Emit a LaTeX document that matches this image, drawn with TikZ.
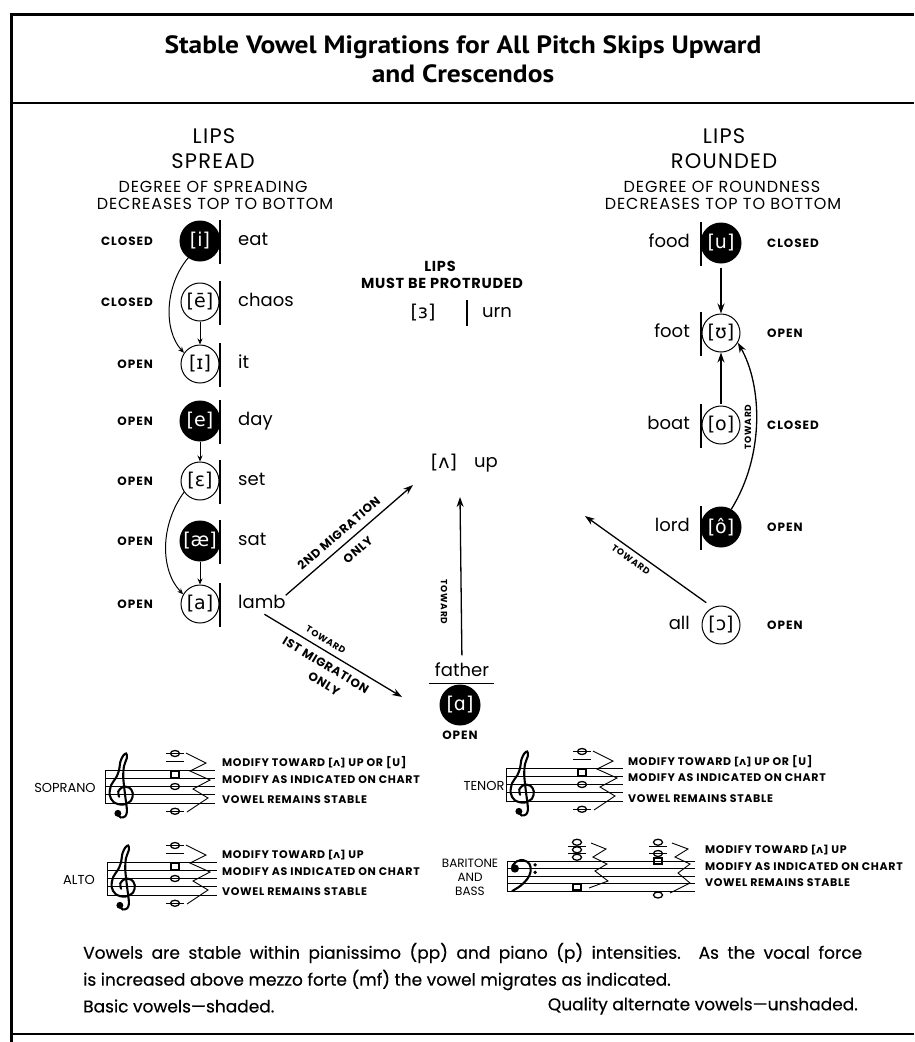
\documentclass[tikz,border=0pt]{standalone}
\usepackage{fontspec}
\setmainfont{Poppins}
\newfontfamily\titlefont{PT Sans}[FakeStretch=1.1]
\newfontfamily\ipafont{DejaVu Sans}
\usetikzlibrary{arrows.meta,calc}
\tikzset{
 basicv/.style={circle,draw=black,fill=black,text=white,line width=1pt,minimum size=40pt,inner sep=0pt,font=\ipafont\fontsize{19}{19}\selectfont},
 altv/.style={circle,draw=black,fill=white,line width=1pt,minimum size=38pt,inner sep=0pt,font=\ipafont\fontsize{19}{19}\selectfont},
 ipav/.style={inner sep=0pt,font=\ipafont\fontsize{19}{19}\selectfont},
 word/.style={inner sep=0pt,font=\fontsize{18}{18}\selectfont,text height=13pt,text depth=4pt},
 qual/.style={inner sep=0pt,font=\bfseries\fontsize{12}{12}\selectfont\addfontfeature{LetterSpace=8},text height=8.5pt,text depth=0pt},
 hbig/.style={inner sep=0pt,font=\fontsize{21}{21}\selectfont\addfontfeature{LetterSpace=6}},
 hsmall/.style={inner sep=0pt,font=\fontsize{16}{16}\selectfont\addfontfeature{LetterSpace=6}},
 cbold/.style={inner sep=0pt,font=\bfseries\fontsize{14.5}{14.5}\selectfont\addfontfeature{LetterSpace=5}},
 lbl/.style={inner sep=0pt,font=\bfseries\fontsize{12}{12}\selectfont\addfontfeature{LetterSpace=6}},
 slbl/.style={inner sep=0pt,font=\bfseries\fontsize{9}{9}\selectfont\addfontfeature{LetterSpace=8}},
 note text/.style={inner sep=0pt,font=\fontsize{17}{17}\selectfont\addfontfeature{FakeBold=0.4}},
 arr/.style={line width=1.3pt,-{Stealth[length=10pt,width=7pt]}},
 rarr/.style={line width=1.3pt,{Stealth[length=10pt,width=7pt]}-},
 sarr/.style={line width=1pt,-{Stealth[length=6pt,width=5pt]}},
 vbar/.style={line width=1.1pt},
 staffline/.style={line width=0.9pt},
 note/.style={line width=1.3pt},
 zig/.style={line width=0.9pt},
 stext/.style={inner sep=0pt,anchor=west,font=\bfseries\fontsize{11}{11}\selectfont\addfontfeature{LetterSpace=6}},
 slab/.style={inner sep=0pt,font=\fontsize{13}{13}\selectfont,align=center},
 trebleclef/.pic={
  \draw[line width=2.1pt,line cap=round] plot[smooth,tension=0.55] coordinates {(-0.55,-2.35) (-0.15,-2.75) (0.4,-2.6) (0.6,-2.0) (0.5,-1.0) (0.3,0.6) (0.15,2.2) (0.25,3.5) (0.6,4.5) (0.5,5.0) (0.15,4.75) (-0.2,4.0) (-0.35,3.0) (-0.7,2.1) (-1.3,1.2) (-1.5,0.0) (-1.0,-0.9) (0.1,-1.2) (1.1,-0.7) (1.3,0.2) (0.9,0.85) (0.1,0.95) (-0.45,0.4) (-0.35,-0.25)};
  \fill (-0.5,-2.25) circle (0.42);
 },
 bassclef/.pic={
  \fill (0.25,0) circle (0.55);
  \draw[line width=2.1pt,line cap=round] plot[smooth,tension=0.6] coordinates {(-0.1,0.3) (0.5,0.95) (1.4,1.1) (2.2,0.6) (2.35,-0.4) (1.9,-1.4) (1.0,-2.3) (-0.1,-3.0)};
  \fill (2.95,0.5) circle (0.25);
  \fill (2.95,-0.5) circle (0.25);
 },
}
\newcommand{\trebstaff}[2]{%
 \foreach \k in {0,...,4} \draw[staffline] (0,{-8.25*\k}) -- (#1,{-8.25*\k});
 \draw[staffline] (0,0) -- (0,-33);
 \pic[scale=8.25] at (17,-24.75) {trebleclef};
 \draw[staffline] ({#2-9},16.5) -- ({#2+9},16.5);
 \draw[staffline] ({#2-9},8.25) -- ({#2+9},8.25);
 \draw[note] (#2,16.5) ellipse (4.5 and 3);
 \draw[note] ({#2-4},-1) rectangle ({#2+4},-7.25);
 \draw[note] (#2,-16.5) ellipse (4.5 and 3);
 \draw[staffline] ({#2-9},-41.25) -- ({#2+9},-41.25);
 \draw[note] (#2,-41.25) ellipse (4.5 and 3);
 \draw[zig] ({#2+11},17) -- ({#2+31},7) -- ({#2+15},-1) -- ({#2+35},-10) -- ({#2+18},-19) -- ({#2+33},-28) -- ({#2+12},-42);
}
\begin{document}
\begin{tikzpicture}[x=1pt,y=1pt]
\useasboundingbox (0,0) rectangle (914,-1042);
\fill[white] (0,0) rectangle (914,-1042);
% frame
\draw[line width=3pt] (11,-1042) -- (11,-14) -- (914,-14);
\draw[line width=2.5pt] (11,-103) -- (914,-103);
\draw[line width=2.5pt] (11,-1034) -- (914,-1034);
% title
\node[font=\titlefont\bfseries\fontsize{25}{25}\selectfont,inner sep=0pt] (title1) at (463,-47) {Stable Vowel Migrations for All Pitch Skips Upward};
\node[font=\titlefont\bfseries\fontsize{25}{25}\selectfont,inner sep=0pt] (title2) at (463,-74) {and Crescendos};
% headers
\node[hbig] (hl1) at (214,-136) {LIPS};
\node[hbig] (hl2) at (213,-161) {SPREAD};
\node[hsmall] (hl3) at (213,-187) {DEGREE OF SPREADING};
\node[hsmall] (hl4) at (215,-204) {DECREASES TOP TO BOTTOM};
\node[hbig] (hr1) at (724,-136) {LIPS};
\node[hbig] (hr2) at (724,-161) {ROUNDED};
\node[hsmall] (hr3) at (722,-187) {DEGREE OF ROUNDNESS};
\node[hsmall] (hr4) at (723,-204) {DECREASES TOP TO BOTTOM};
% left column
\node[basicv] (vi) at (200,-241) {[i]};
\node[altv] (vee) at (200,-302) {[ē]};
\node[altv] (vI) at (200,-364) {[ɪ]};
\node[basicv] (ve) at (200,-421) {[e]};
\node[altv] (veps) at (200,-481) {[ɛ]};
\node[basicv] (vae) at (200,-541) {[æ]};
\node[altv] (va) at (200,-604) {[a]};
\foreach \n in {vi,vee,vI,ve,veps,vae,va} \draw[vbar] ($(\n)+(20,21)$) -- ($(\n)+(20,-23)$);
\node[qual,anchor=east] (qi) at (153,-241) {CLOSED};
\node[qual,anchor=east] (qee) at (153,-302) {CLOSED};
\node[qual,anchor=east] (qI) at (153,-364) {OPEN};
\node[qual,anchor=east] (qe) at (153,-421) {OPEN};
\node[qual,anchor=east] (qeps) at (153,-481) {OPEN};
\node[qual,anchor=east] (qae) at (153,-541) {OPEN};
\node[qual,anchor=east] (qa) at (153,-604) {OPEN};
\node[word,anchor=west] (wi) at (238,-241) {eat};
\node[word,anchor=west] (wee) at (238,-302) {chaos};
\node[word,anchor=west] (wI) at (238,-364) {it};
\node[word,anchor=west] (we) at (238,-421) {day};
\node[word,anchor=west] (weps) at (238,-481) {set};
\node[word,anchor=west] (wae) at (238,-541) {sat};
\node[word,anchor=west] (wa) at (238,-604) {lamb};
\draw[sarr] (vee.south) -- (vI.north);
\draw[sarr] (ve.south) -- (veps.north);
\draw[sarr] (vae.south) -- (va.north);
\draw[sarr] (vi.235) .. controls (165,-285) and (163,-330) .. (vI.145);
\draw[sarr] (veps.215) .. controls (160,-525) and (160,-570) .. (va.150);
% right column
\node[basicv] (vu) at (721,-243) {[u]};
\node[altv] (vU) at (721,-333) {[ʊ]};
\node[altv] (vo) at (721,-425) {[o]};
\node[basicv] (vO) at (721,-527) {[ô]};
\node[altv] (vc) at (721,-625) {[ɔ]};
\foreach \n in {vu,vU,vo,vO} \draw[vbar] ($(\n)+(-20,21)$) -- ($(\n)+(-20,-23)$);
\node[word,anchor=east] (wu) at (690,-243) {food};
\node[word,anchor=east] (wU) at (690,-333) {foot};
\node[word,anchor=east] (wo) at (690,-425) {boat};
\node[word,anchor=east] (wO) at (690,-527) {lord};
\node[word,anchor=east] (wc) at (690,-625) {all};
\node[qual,anchor=west] (qu) at (767,-243) {CLOSED};
\node[qual,anchor=west] (qU) at (767,-333) {OPEN};
\node[qual,anchor=west] (qo) at (767,-425) {CLOSED};
\node[qual,anchor=west] (qO) at (767,-527) {OPEN};
\node[qual,anchor=west] (qc) at (767,-625) {OPEN};
\draw[arr,shorten <=4pt] (vu.south) -- (vU.north);
\draw[arr,shorten <=2pt] (vo.north) -- (vU.south);
\draw[arr] (vO.60) .. controls (765,-455) and (762,-385) .. (vU.-30);
\node[slbl,rotate=90] (ltr) at (748,-427) {TOWARD};
% centre
\node[cbold] (lipsc) at (440,-266) {LIPS};
\node[cbold] (protr) at (442,-283) {MUST BE PROTRUDED};
\node[ipav] (verr) at (423,-313) {[ɜ]};
\draw[vbar] (467,-300) -- (467,-326);
\node[word,anchor=west] (wurn) at (482,-313) {urn};
\node[ipav] (vup) at (444,-463) {[ʌ]};
\node[word,anchor=west] (wup) at (474,-463) {up};
\coordinate (t2) at (413,-485);
\coordinate (t3) at (460,-497);
\coordinate (t4) at (585,-516);
\coordinate (t5) at (402,-697);
% father
\node[word] (wfa) at (462,-672) {father};
\draw[line width=1pt] (429,-683) -- (494,-683);
\node[basicv] (vfa) at (460,-705) {[ɑ]};
\node[qual] (qfa) at (460,-735) {OPEN};
% migration arrows
\draw[arr] (wa.north east) -- (t2)
  node[lbl,pos=0.48,sloped,above=7pt] (l2nd) {2ND MIGRATION}
  node[lbl,pos=0.5,sloped,below=8pt] (l2only) {ONLY};
\draw[arr,shorten <=8pt] (wfa.north) -- (t3);
\node[slbl,rotate=-90] (ltv) at (444,-602) {TOWARD};
\draw[rarr,shorten >=8pt] (t4) -- (vc.115)
  node[slbl,pos=0.4,sloped,below=5pt] (ltc) {TOWARD};
\draw[arr,shorten <=3pt] (wa.south) -- (t5)
  node[slbl,pos=0.42,sloped,above=6pt] (ltf) {TOWARD}
  node[lbl,pos=0.5,sloped,below=7pt] (lmig1) {IST MIGRATION}
  node[lbl,pos=0.55,sloped,below=24pt] (lonly1) {ONLY};
% staves
\node[slab] (lsop) at (65,-788) {SOPRANO};
\begin{scope}[shift={(105,-770)}] \trebstaff{110}{70} \end{scope}
\node[stext] (sop1) at (222,-763) {MODIFY TOWARD {\ipafont[ʌ]} UP OR [U]};
\node[stext] (sop2) at (222,-780) {MODIFY AS INDICATED ON CHART};
\node[stext] (sop3) at (222,-800) {VOWEL REMAINS STABLE};
\node[slab] (lalt) at (79,-880) {ALTO};
\begin{scope}[shift={(107,-862)}] \trebstaff{110}{68} \end{scope}
\node[stext] (alt1) at (222,-855) {MODIFY TOWARD {\ipafont[ʌ]} UP};
\node[stext] (alt2) at (222,-872) {MODIFY AS INDICATED ON CHART};
\node[stext] (alt3) at (222,-892) {VOWEL REMAINS STABLE};
\node[slab] (lten) at (484,-786) {TENOR};
\begin{scope}[shift={(506,-768)}] \trebstaff{117}{76} \end{scope}
\node[stext] (ten1) at (628,-762) {MODIFY TOWARD {\ipafont[ʌ]} UP OR [U]};
\node[stext] (ten2) at (628,-778) {MODIFY AS INDICATED ON CHART};
\node[stext] (ten3) at (628,-799) {VOWEL REMAINS STABLE};
\node[slab,font=\fontsize{12}{14}\selectfont] (lbar) at (470,-877) {BARITONE\\AND\\BASS};
\begin{scope}[shift={(507,-861)}]
 \foreach \k in {0,...,4} \draw[staffline] (0,{-7.5*\k}) -- (188,{-7.5*\k});
 \draw[staffline] (0,0) -- (0,-30);
 \pic[scale=7.5] at (6,-7.5) {bassclef};
 \draw[staffline] (61,7.5) -- (79,7.5);
 \draw[staffline] (61,15) -- (79,15);
 \draw[note] (70,18.75) ellipse (4.5 and 3);
 \draw[note] (70,11.25) ellipse (4.5 and 3);
 \draw[note] (70,3.75) ellipse (4.5 and 3);
 \draw[note] (66,-23.5) rectangle (74,-29);
 \draw[zig] (84,18) -- (99,12) -- (86,4) -- (100,-3) -- (88,-10) -- (101,-20) -- (82,-27);
 \draw[staffline] (142,7.5) -- (160,7.5);
 \draw[staffline] (142,15) -- (160,15);
 \draw[note] (151,18.75) ellipse (4.5 and 3);
 \draw[note] (151,7.5) ellipse (4.5 and 3);
 \draw[note] (147,3) rectangle (155,-3);
 \draw[note] (151,-34) ellipse (4.5 and 3);
 \draw[zig] (165,18) -- (181,12) -- (168,4) -- (183,-3) -- (171,-12) -- (183,-22) -- (163,-32);
\end{scope}
\node[stext] (bas1) at (705,-850) {MODIFY TOWARD {\ipafont[ʌ]} UP};
\node[stext] (bas2) at (705,-867) {MODIFY AS INDICATED ON CHART};
\node[stext] (bas3) at (705,-883) {VOWEL REMAINS STABLE};
% notes
\node[note text,anchor=west] (n1) at (83,-953) {\makebox[779pt][s]{Vowels are stable within pianissimo (pp) and piano (p) intensities. As the vocal force}};
\node[note text,anchor=west] (n2) at (83,-980) {is increased above mezzo forte (mf) the vowel migrates as indicated.};
\node[note text,anchor=west] (n3) at (83,-1006) {Basic vowels—shaded.};
\node[note text,anchor=east] (n4) at (858,-1006) {Quality alternate vowels—unshaded.};
\end{tikzpicture}
\end{document}
